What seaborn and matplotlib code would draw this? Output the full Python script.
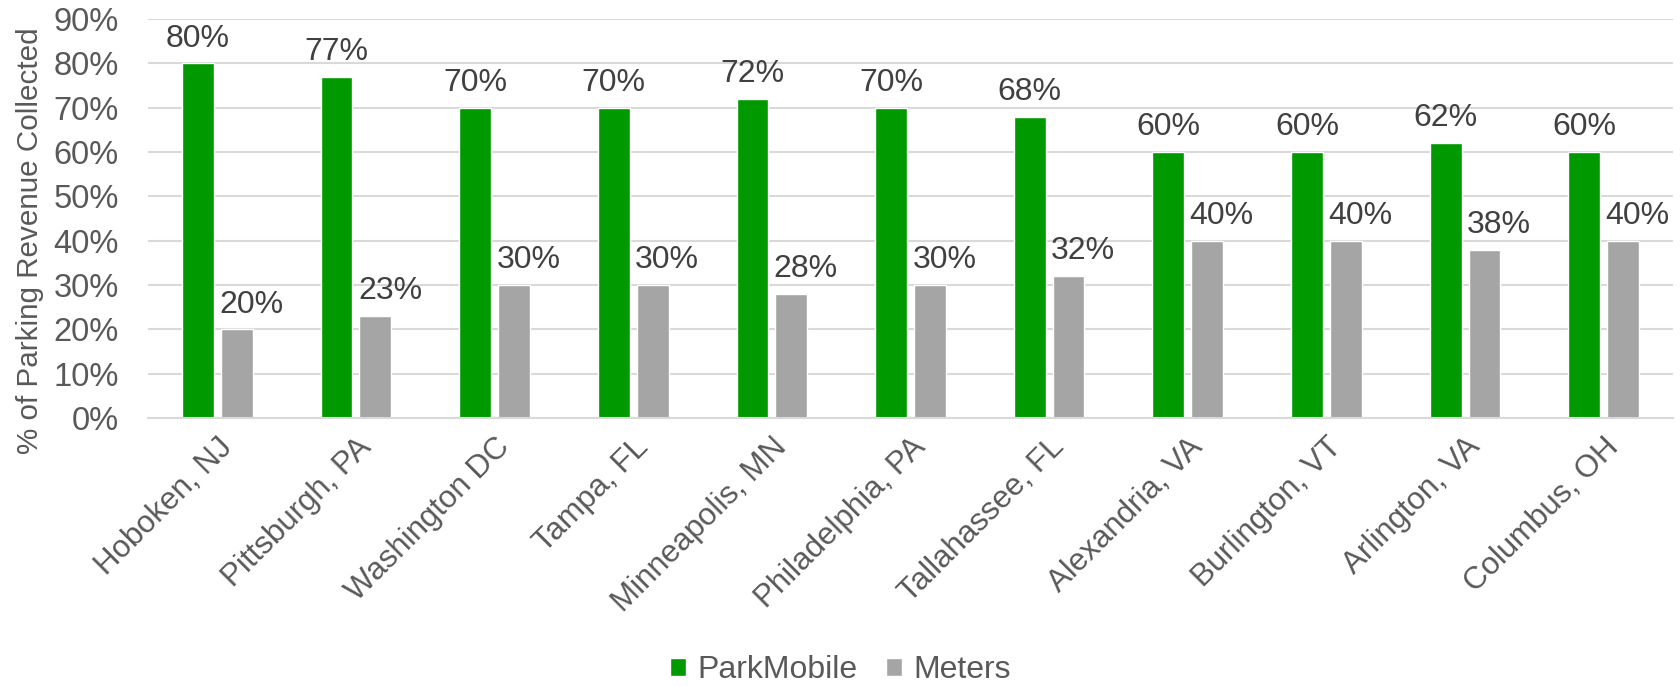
import matplotlib
matplotlib.use("Agg")
import matplotlib.pyplot as plt
import seaborn as sns
import pandas as pd
from matplotlib.ticker import PercentFormatter

cities = ["Hoboken, NJ", "Pittsburgh, PA", "Washington DC", "Tampa, FL", "Minneapolis, MN",
          "Philadelphia, PA", "Tallahassee, FL", "Alexandria, VA", "Burlington, VT",
          "Arlington, VA", "Columbus, OH"]
parkmobile = [80, 77, 70, 70, 72, 70, 68, 60, 60, 62, 60]
meters = [20, 23, 30, 30, 28, 30, 32, 40, 40, 38, 40]
series = ["ParkMobile", "Meters"]
colors = ["#009900", "#A5A5A5"]

df = pd.DataFrame({
    "city": cities * 2,
    "value": parkmobile + meters,
    "series": [series[0]] * len(cities) + [series[1]] * len(cities),
})

sns.set_style("white")
plt.rcParams["font.family"] = ["Liberation Sans", "DejaVu Sans"]
txt = "#595959"

fig = plt.figure(figsize=(16.81, 6.86), dpi=100)
ax = fig.add_axes([148 / 1681, 1 - 418 / 686, 1525 / 1681, 399 / 686])

sns.barplot(data=df, x="city", y="value", hue="series", palette=colors,
            width=0.56, gap=0.18, ax=ax, legend=True, saturation=1)

for i, cont in enumerate(ax.containers):
    texts = ax.bar_label(cont, labels=[f"{int(v)}%" for v in cont.datavalues],
                         padding=7, fontsize=23, color="#404040")
    if i == 1:
        for t in texts:
            t.xyann = (10.5, 7)

ax.set_ylim(0, 90)
ax.set_yticks(range(0, 91, 10))
ax.yaxis.set_major_formatter(PercentFormatter(decimals=0))
ax.set_xlim(-0.5, len(cities) - 0.5)
ax.grid(axis="y", color="#D9D9D9", linewidth=1.5)
ax.set_axisbelow(True)
for s in ["top", "right", "left"]:
    ax.spines[s].set_visible(False)
ax.spines["bottom"].set_color("#D9D9D9")
ax.spines["bottom"].set_linewidth(1.5)
ax.tick_params(axis="y", length=0, labelsize=23.5, colors=txt, pad=21)
ax.tick_params(axis="x", length=0, labelsize=22.5, colors=txt, pad=10)
ax.set_xticks(range(len(cities)))
ax.set_xticklabels(cities, rotation=45, ha="right", rotation_mode="anchor")
ax.set_xlabel("")
ax.set_ylabel("% of Parking Revenue Collected", fontsize=21.3, color=txt)
ax.yaxis.set_label_coords(-0.068, 0.444)

handles, labels = ax.get_legend_handles_labels()
ax.legend_.remove()
fig.legend(handles, labels, loc="center", bbox_to_anchor=(0.5, 1 - 670 / 686), ncol=2,
           frameon=False, fontsize=23, labelcolor=txt, handlelength=0.5, handleheight=0.5,
           handletextpad=0.35, columnspacing=0.9, borderpad=0.1)

fig.savefig("out.png", dpi=100)
